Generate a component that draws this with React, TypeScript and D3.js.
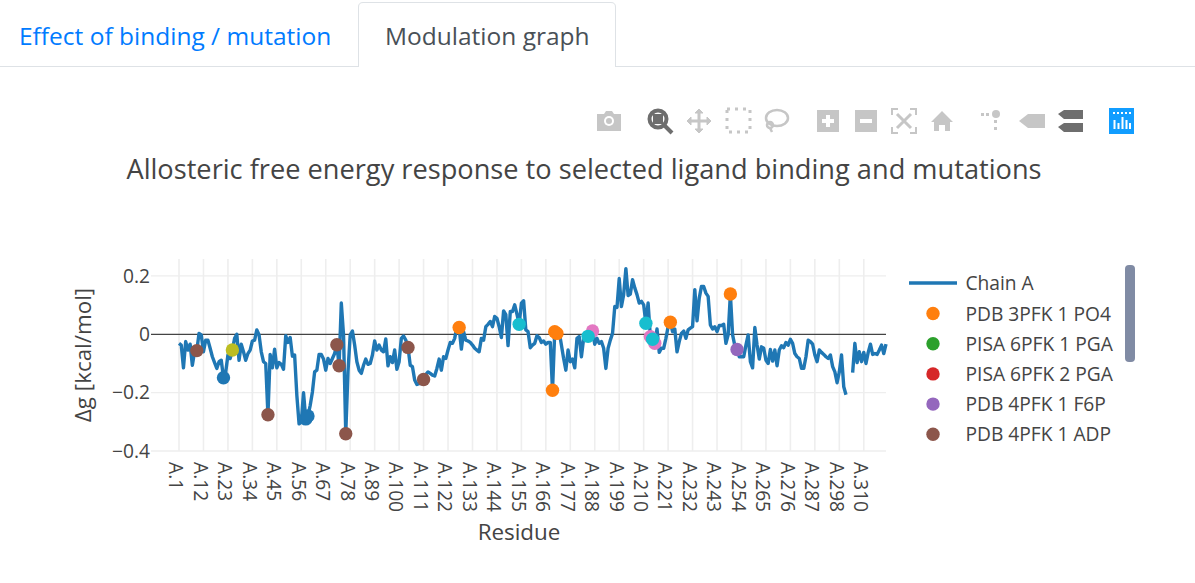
import { useEffect, useRef } from 'react';
import * as d3 from 'd3';

// Δg per residue position along chain A (null = no value)
const chainA: (number | null)[] = [
  -0.031, -0.037, -0.115, -0.025, -0.054, -0.034, -0.106, -0.06, -0.056, 0.003,
  -0.002, -0.06, -0.02, -0.02, -0.048, -0.077, -0.097, -0.117, -0.094, -0.089,
  -0.149, -0.13, -0.071, -0.083, -0.054, -0.014, 0, -0.089, -0.034, -0.06,
  -0.089, -0.066, -0.054, -0.023, -0.02, 0.015, -0.002, -0.06, -0.094, -0.1,
  -0.276, -0.069, -0.115, -0.051, -0.115, -0.097, -0.103, -0.12, -0.005, -0.028,
  -0.011, -0.075, -0.071, -0.209, -0.307, -0.301, -0.2, -0.29, -0.28, -0.244,
  -0.198, -0.129, -0.123, -0.069, -0.069, -0.085, -0.123, -0.083, -0.1, -0.083,
  -0.066, -0.036, -0.108, 0.107, -0.002, -0.341, -0.129, -0.002, 0.011, -0.037,
  -0.094, -0.123, -0.134, -0.106, -0.085, -0.103, -0.1, -0.071, -0.023, -0.054,
  -0.037, -0.054, -0.06, -0.016, -0.108, -0.077, -0.097, -0.054, -0.12, -0.094,
  -0.014, -0.006, -0.02, -0.045, -0.106, -0.111, -0.157, -0.172, -0.169, -0.169,
  -0.155, -0.138, -0.129, -0.134, -0.14, -0.143, -0.117, -0.085, -0.123, -0.077,
  -0.083, -0.054, -0.028, -0.031, -0.014, 0.026, 0.023, -0.051, 0.009, -0.02,
  -0.023, -0.028, -0.037, -0.048, -0.054, -0.06, -0.014, -0.02, 0.026, 0.034,
  0.044, 0.026, 0.061, 0.055, 0.026, -0.011, 0.08, 0.067, -0.039, 0.078,
  0.078, 0.101, 0.069, 0.034, 0.107, 0.115, 0.015, 0.009, -0.046, -0.037,
  -0.031, -0.005, -0.011, -0.028, -0.023, -0.034, -0.028, -0.028, -0.192, 0.009,
  0.003, 0.009, -0.037, -0.083, -0.123, -0.054, -0.094, -0.085, -0.115, -0.014,
  -0.008, -0.077, -0.014, -0.008, -0.007, 0.007, 0.011, -0.034, -0.014, -0.031,
  -0.025, -0.048, -0.117, -0.048, -0.02, 0.003, 0.095, 0.092, 0.191, 0.095,
  0.136, 0.225, 0.133, 0.138, 0.187, 0.159, 0.136, 0.107, 0.113, 0.101,
  0.038, 0.107, -0.008, -0.017, -0.031, 0.018, -0.062, -0.048, -0.048, -0.014,
  0.026, 0.041, 0.009, 0.018, -0.06, -0.025, 0.003, 0.011, -0.014, 0.015,
  0.021, 0.026, 0.153, 0.046, 0.124, 0.164, 0.164, 0.141, 0.13, 0.032,
  0.018, 0.026, 0.009, 0.03, 0.03, 0.034, -0.031, -0.002, 0.138, -0.002,
  -0.039, -0.052, -0.077, -0.077, -0.077, -0.037, -0.002, -0.094, -0.115, 0.023,
  -0.037, -0.085, -0.043, -0.048, -0.089, -0.1, -0.052, -0.092, -0.054, -0.108,
  -0.054, -0.039, -0.046, -0.028, -0.037, -0.017, -0.031, -0.066, -0.077, -0.083,
  -0.117, -0.117, -0.077, -0.02, -0.025, -0.034, -0.071, -0.094, -0.054, -0.062,
  -0.069, -0.077, -0.083, -0.071, -0.111, -0.129, -0.166, -0.129, -0.071, -0.18,
  -0.207, null, null, -0.131, -0.031, -0.097, -0.06, -0.094, -0.062, -0.1,
  -0.062, -0.034, -0.069, -0.066, -0.069, -0.054, -0.037, -0.066, -0.034,
];

const tickLabels = [
  'A.1', 'A.12', 'A.23', 'A.34', 'A.45', 'A.56', 'A.67', 'A.78', 'A.89', 'A.100',
  'A.111', 'A.122', 'A.133', 'A.144', 'A.155', 'A.166', 'A.177', 'A.188', 'A.199',
  'A.210', 'A.221', 'A.232', 'A.243', 'A.254', 'A.265', 'A.276', 'A.287', 'A.298', 'A.310',
];
const tickStep = 11;

const yTicks = [-0.4, -0.2, 0, 0.2];

// ligand / mutation markers: colour and positions along the chain
const markerColors = ['#ff7f0e', '#9467bd', '#8c564b', '#e377c2', '#bcbd22', '#17becf', '#1f77b4'];
const markerPositions = [
  [126, 168, 169, 170, 221, 248],
  [251],
  [8, 40, 71, 72, 75, 103, 110],
  [186, 212, 214],
  [24],
  [153, 184, 210, 213],
  [20, 57, 58],
];

const legendNames = ['PDB 3PFK 1 PO4', 'PISA 6PFK 1 PGA', 'PISA 6PFK 2 PGA', 'PDB 4PFK 1 F6P', 'PDB 4PFK 1 ADP'];
const legendColors = ['#ff7f0e', '#2ca02c', '#d62728', '#9467bd', '#8c564b'];

const FONT = '"Open Sans", sans-serif';
const IDLE = '#c6c6c6';
const ACTIVE = '#6e6e6e';

function Toolbar() {
  return (
    <g>
      {/* camera */}
      <g transform="translate(609,121)" fill={IDLE}>
        <path d="M-12,-7 H-5 L-3,-10 H3 L5,-7 H12 V10 H-12 Z" />
        <circle r={5} fill="#fff" />
        <circle r={3} />
      </g>
      {/* zoom */}
      <g transform="translate(658,119)">
        <circle r={8.5} fill="#fff" stroke={ACTIVE} strokeWidth={4} />
        <rect x={-5} y={-5} width={10} height={10} fill={ACTIVE} />
        <path d="M6,6 L14,14" stroke={ACTIVE} strokeWidth={4} />
      </g>
      {/* pan */}
      <g transform="translate(699,121)" stroke={IDLE} strokeWidth={3} fill={IDLE}>
        <path d="M-9,0 H9 M0,-9 V9" />
        <path d="M-12,0 L-8,-4 V4 Z M12,0 L8,-4 V4 Z M0,-12 L-4,-8 H4 Z M0,12 L-4,8 H4 Z" strokeWidth={1} />
      </g>
      {/* box select */}
      <rect x={727} y={109} width={23} height={23} fill="none" stroke={IDLE} strokeWidth={3} strokeDasharray="3 5" />
      {/* lasso */}
      <g transform="translate(776,120)" fill="none" stroke={IDLE} strokeWidth={2.5}>
        <ellipse cx={1} cy={-2} rx={11} ry={8} />
        <circle cx={-6} cy={5} r={3} />
        <path d="M-6,8 L-4,12" />
      </g>
      {/* zoom in / out */}
      <rect x={817} y={110} width={22} height={22} fill={IDLE} />
      <path d="M828,115 V127 M822,121 H834" stroke="#fff" strokeWidth={4} />
      <rect x={855} y={110} width={22} height={22} fill={IDLE} />
      <path d="M860,121 H872" stroke="#fff" strokeWidth={4} />
      {/* autoscale */}
      <g transform="translate(904,121)" fill="none" stroke={IDLE} strokeWidth={2}>
        <path d="M-12,-6 V-12 H-6 M6,-12 H12 V-6 M12,6 V12 H6 M-6,12 H-12 V6" />
        <path d="M-7,-7 L7,7 M7,-7 L-7,7" strokeWidth={3} />
      </g>
      {/* home */}
      <path d="M942,111 L953,122 H950 V131 H945 V125 H939 V131 H934 V122 H931 Z" fill={IDLE} />
      {/* spikelines */}
      <g fill={IDLE}>
        <rect x={981} y={113} width={3} height={3} />
        <rect x={986} y={113} width={3} height={3} />
        <circle cx={996} cy={114} r={4} />
        <rect x={994} y={120} width={3} height={3} />
        <rect x={994} y={127} width={3} height={3} />
      </g>
      {/* hover closest */}
      <path d="M1019,121 L1028,114 H1045 V128 H1028 Z" fill={IDLE} />
      {/* hover compare */}
      <path d="M1058,114 L1064,110 H1083 V119 H1064 Z M1058,127 L1064,123 H1083 V132 H1064 Z" fill={ACTIVE} />
      {/* logo */}
      <rect x={1109} y={108} width={25} height={26} fill="#119dff" />
      <g stroke="#fff" strokeWidth={2}>
        <path d="M1114.5,120 V129 M1118.5,123 V129 M1122.5,117 V129 M1126.5,120 V129 M1130,123 V129" />
        <path d="M1113,113 H1131" strokeDasharray="2 2" />
      </g>
    </g>
  );
}

export default function App() {
  const plotRef = useRef<SVGGElement>(null);

  useEffect(() => {
    if (!plotRef.current) return;

    // Clear previous chart
    const g = d3.select(plotRef.current);
    g.selectAll('*').remove();

    const left = 151;
    const right = 886;
    const top = 259;
    const bottom = 451;

    // position 0 sits at px 179, the last position at the right edge of the plot
    const x = d3.scaleLinear().domain([-12.6, 318]).range([left, right]);
    const y = d3.scaleLinear().domain([-0.4, 0.258]).range([bottom, top]);

    const tickIdx = tickLabels.map((_, i) => i * tickStep);

    // Grid
    g.append('g')
      .selectAll('line')
      .data(tickIdx)
      .join('line')
      .attr('x1', d => x(d))
      .attr('x2', d => x(d))
      .attr('y1', top)
      .attr('y2', bottom)
      .attr('stroke', '#eee')
      .attr('stroke-width', 1.6);

    g.append('g')
      .selectAll('line')
      .data(yTicks.filter(d => d !== 0))
      .join('line')
      .attr('x1', left)
      .attr('x2', right)
      .attr('y1', d => y(d))
      .attr('y2', d => y(d))
      .attr('stroke', '#eee')
      .attr('stroke-width', 1.4);

    // Zero line
    g.append('line')
      .attr('x1', left)
      .attr('x2', right)
      .attr('y1', y(0))
      .attr('y2', y(0))
      .attr('stroke', '#444')
      .attr('stroke-width', 1.2);

    // X axis
    const xAxis = g.append('g')
      .attr('transform', `translate(0,${bottom})`)
      .call(
        d3.axisBottom(x)
          .tickValues(tickIdx)
          .tickFormat((_, i) => tickLabels[i])
          .tickSize(0)
      );
    xAxis.select('.domain').remove();
    xAxis.selectAll('text')
      .attr('transform', 'rotate(90)')
      .attr('x', 11)
      .attr('y', 0)
      .attr('dy', '0.53em')
      .style('text-anchor', 'start')
      .attr('fill', '#444')
      .attr('font-size', 19.2)
      .attr('font-family', FONT);

    // Y axis
    const yAxis = g.append('g')
      .attr('transform', `translate(${left},0)`)
      .call(
        d3.axisLeft(y)
          .tickValues(yTicks)
          .tickFormat(d => (d === 0 ? '0' : d3.format('.1f')(d as number)))
          .tickSize(0)
      );
    yAxis.select('.domain').remove();
    yAxis.selectAll('text')
      .attr('x', -1)
      .attr('fill', '#444')
      .attr('font-size', 19.2)
      .attr('font-family', FONT);

    // Line
    const line = d3.line<number | null>()
      .defined(d => d !== null)
      .x((_, i) => x(i))
      .y(d => y(d as number));

    g.append('path')
      .datum(chainA)
      .attr('d', line)
      .attr('fill', 'none')
      .attr('stroke', '#1f77b4')
      .attr('stroke-width', 3.4)
      .attr('stroke-linejoin', 'round');

    // Markers
    markerPositions.forEach((positions, s) => {
      g.append('g')
        .selectAll('circle')
        .data(positions)
        .join('circle')
        .attr('cx', d => x(d))
        .attr('cy', d => y(chainA[d] as number))
        .attr('r', 6.7)
        .attr('fill', markerColors[s]);
    });
  }, []);

  return (
    <svg
      width={1195}
      height={583}
      style={{ position: 'absolute', top: 0, left: 0, background: '#fff' }}
      fontFamily={FONT}
    >
      {/* Tabs */}
      <path d="M0,66.5 H358.5 M615.5,66.5 H1195" stroke="#dee2e6" fill="none" />
      <path d="M358.5,67 V7 Q358.5,2.5 363,2.5 H611 Q615.5,2.5 615.5,7 V67" stroke="#dee2e6" fill="#fff" />
      <text x={19} y={45} fontSize={24.5} fill="#007bff">Effect of binding / mutation</text>
      <text x={385} y={45} fontSize={24.5} fill="#495057">Modulation graph</text>

      <Toolbar />

      <text x={584} y={179} textAnchor="middle" fontSize={27.2} fill="#444">
        Allosteric free energy response to selected ligand binding and mutations
      </text>

      <g ref={plotRef} />

      <text x={519} y={540} textAnchor="middle" fontSize={22.4} fill="#444">Residue</text>
      <text transform="translate(91,355) rotate(-90)" textAnchor="middle" fontSize={22.4} fill="#444">Δg [kcal/mol]</text>

      {/* Legend */}
      <line x1={909} x2={957} y1={283} y2={283} stroke="#1f77b4" strokeWidth={3.4} />
      <text x={965.5} y={290} fontSize={19.2} fill="#444">Chain A</text>
      {legendNames.map((name, i) => (
        <g key={name} transform={`translate(0,${313.5 + i * 30.2})`}>
          <circle cx={933} cy={0} r={6.7} fill={legendColors[i]} />
          <text x={965.5} y={7} fontSize={19.2} fill="#444">{name}</text>
        </g>
      ))}
      <rect x={1125} y={265} width={10} height={97} rx={4} fill="#808ba4" />
    </svg>
  );
}
